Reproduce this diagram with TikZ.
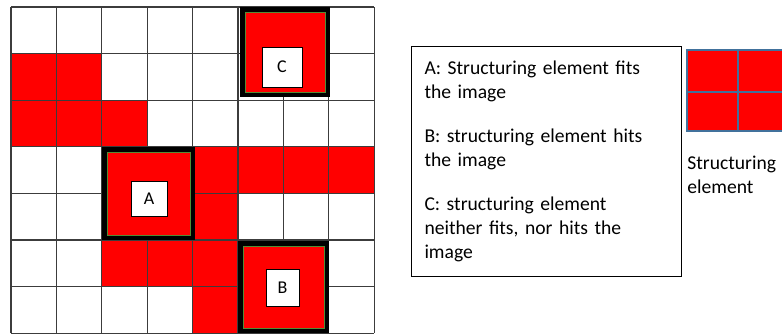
\documentclass[tikz,border=0pt]{standalone}
\usepackage{fontspec}
\setmainfont{Carlito}
\definecolor{cellred}{RGB}{255,0,0}
\definecolor{gridgray}{RGB}{60,60,60}
\definecolor{frgreen}{RGB}{84,140,53}
\definecolor{seblue}{RGB}{65,113,156}
\begin{document}
\begin{tikzpicture}[x=0.5pt,y=-0.5pt,
  gridline/.style={draw=gridgray,line width=0.6pt},
  frame/.style={draw=black,line width=2.3pt,fill=cellred},
  inframe/.style={draw=frgreen,line width=0.5pt},
  lbl/.style={draw=black,line width=0.5pt,fill=white,inner sep=0pt,font=\fontsize{9}{10.8}\selectfont}]
\useasboundingbox (0,0) rectangle (782,334);
\foreach \c/\r in {0/1,1/1,0/2,1/2,2/2,4/3,5/3,6/3,7/3,4/4,2/5,3/5,4/5,4/6}
  \fill[cellred] ({11+45.4*\c},{7+46.6*\r}) rectangle ++(45.4,46.6);
\foreach \i in {0,...,8}
  \draw[gridline] ({11+45.4*\i},7) -- ({11+45.4*\i},333);
\foreach \j in {0,...,7}
  \draw[gridline] (11,{7+46.6*\j}) -- (374.2,{7+46.6*\j});
\draw[frame] (242.3,9.3) rectangle (327.7,94.7);
\draw[inframe] (245,12) rectangle (325,92);
\draw[frame] (104.3,149.3) rectangle (192.7,237.7);
\draw[inframe] (107,152) rectangle (190,235);
\draw[frame] (240.3,243.3) rectangle (326.7,330.7);
\draw[inframe] (243,246) rectangle (324,328);
\node[lbl,minimum width=20pt,minimum height=20pt] (C) at (282,67) {C};
\node[lbl,minimum width=18pt,minimum height=17.5pt] (A) at (149,198.5) {A};
\node[lbl,minimum width=16.5pt,minimum height=18.5pt] (B) at (282.5,287.5) {B};
\node[draw=black,line width=0.5pt,anchor=north west,text width=122pt,inner xsep=6.5pt,inner ysep=0pt,
  minimum height=115pt,align=left,font=\fontsize{9.8}{12}\selectfont] (Leg) at (411,46)
  {A: Structuring element fits\\the image\\[10pt]
   B: structuring element hits\\the image\\[10pt]
   C: structuring element\\neither fits, nor hits the\\image};
\fill[cellred] (687,50) rectangle (790,131);
\draw[seblue,line width=0.75pt] (687,50) rectangle (790,131) (738,50) -- (738,131) (687,92) -- (790,92);
\node[anchor=north west,inner sep=0pt,align=left,font=\fontsize{9.8}{12}\selectfont] (SE) at (687,156)
  {Structuring\\element};
\end{tikzpicture}
\end{document}
